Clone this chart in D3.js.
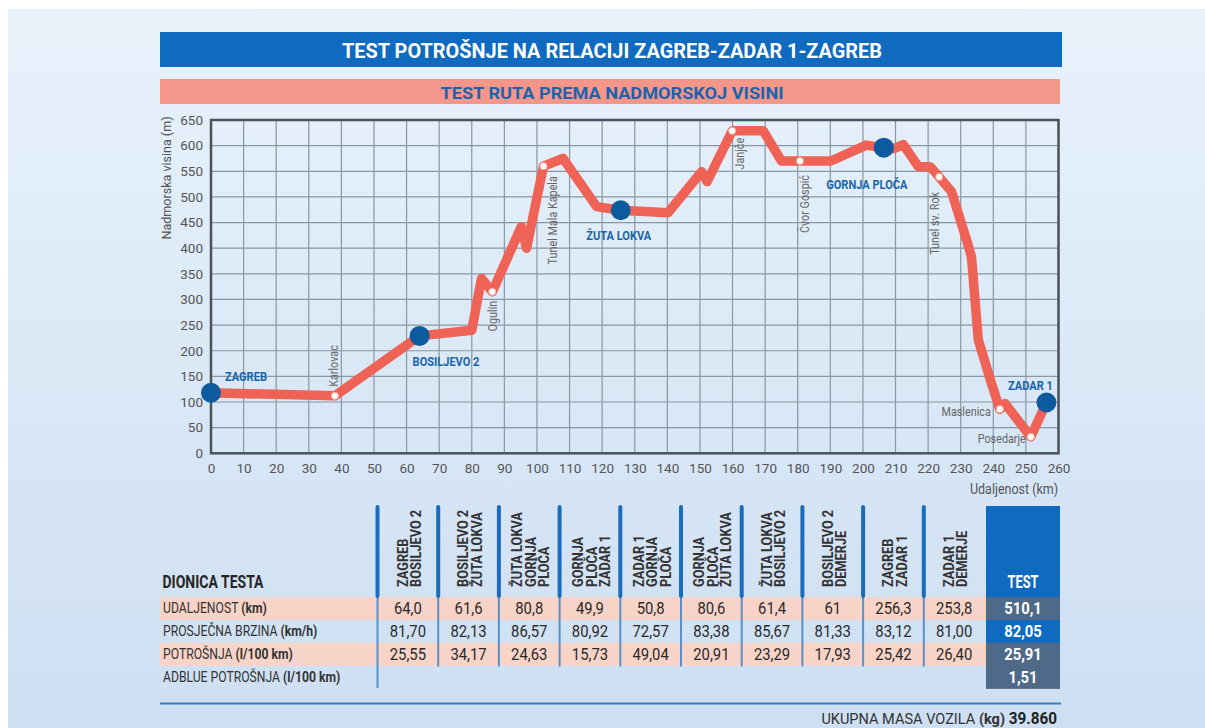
<!DOCTYPE html>
<html><head><meta charset="utf-8">
<script src="https://cdn.jsdelivr.net/npm/d3@7"></script>
<style>
html,body{margin:0;padding:0;background:#fff;}
svg{display:block;font-family:Roboto,"Noto Sans",sans-serif;}
</style></head><body>
<svg id="chart" width="1205" height="728"></svg>
<script>
// ---------------- DATA ----------------
const titleText = "TEST POTROŠNJE NA RELACIJI ZAGREB-ZADAR 1-ZAGREB";
const subtitleText = "TEST RUTA PREMA NADMORSKOJ VISINI";
const yAxisTitle = "Nadmorska visina (m)";
const xAxisTitle = "Udaljenost (km)";
const xTicks = [0,10,20,30,40,50,60,70,80,90,100,110,120,130,140,150,160,170,180,190,200,210,220,230,240,250,260];
const yTicks = [0,50,100,150,200,250,300,350,400,450,500,550,600,650];

// elevation profile (km, m)
const profileKm  = [0, 38, 64, 80, 83, 86.3, 95.2, 96.8, 102, 108, 118.3, 125.7, 140.2, 150.5, 152.2, 159.9, 169.4, 175, 180.7, 190.2, 201, 206.4, 209.5, 212.4, 217, 220.6, 223.4, 227.2, 231.8, 233.3, 235.4, 239.4, 242, 243.6, 251.5, 256.3];
const profileAlt = [118, 112, 229, 240, 341, 315, 442, 400, 560, 575, 481, 474, 469, 549, 530, 629, 629, 570, 570, 570, 601, 596, 594, 602, 559, 559, 539, 510, 416, 383, 221, 137, 86, 97, 32, 99];

// main stops (blue dots)
const stopNames = ["ZAGREB", "BOSILJEVO 2", "ŽUTA LOKVA", "GORNJA PLOČA", "ZADAR 1"];
const stopKm    = [0, 64, 125.7, 206.4, 256.3];
const stopAlt   = [118, 229, 474, 596, 99];

// waypoints (white dots)
const placeNames = ["Karlovac", "Ogulin", "Tunel Mala Kapela", "Janjče", "Čvor Gospić", "Tunel sv. Rok", "Maslenica", "Posedarje"];
const placeKm    = [38, 86.3, 102, 159.9, 180.7, 223.4, 242, 251.5];
const placeAlt   = [112, 315, 560, 629, 570, 539, 86, 32];

// table
const tableTitle = "DIONICA TESTA";
const sectionLabels = [
  ["ZAGREB", "BOSILJEVO 2"],
  ["BOSILJEVO 2", "ŽUTA LOKVA"],
  ["ŽUTA LOKVA", "GORNJA", "PLOČA"],
  ["GORNJA", "PLOČA", "ZADAR 1"],
  ["ZADAR 1", "GORNJA", "PLOČA"],
  ["GORNJA", "PLOČA", "ŽUTA LOKVA"],
  ["ŽUTA LOKVA", "BOSILJEVO 2"],
  ["BOSILJEVO 2", "DEMERJE"],
  ["ZAGREB", "ZADAR 1"],
  ["ZADAR 1", "DEMERJE"]
];
const rowLabels = [["UDALJENOST ", "(km)"], ["PROSJEČNA BRZINA ", "(km/h)"], ["POTROŠNJA ", "(l/100 km)"], ["ADBLUE POTROŠNJA ", "(l/100 km)"]];
const distanceVals    = ["64,0", "61,6", "80,8", "49,9", "50,8", "80,6", "61,4", "61", "256,3", "253,8"];
const speedVals       = ["81,70", "82,13", "86,57", "80,92", "72,57", "83,38", "85,67", "81,33", "83,12", "81,00"];
const consumptionVals = ["25,55", "34,17", "24,63", "15,73", "49,04", "20,91", "23,29", "17,93", "25,42", "26,40"];
const testHeader = "TEST";
const testVals = ["510,1", "82,05", "25,91", "1,51"];
const massLabel = ["UKUPNA MASA VOZILA ", "(kg)"];
const massValue = "39.860";

// ---------------- LAYOUT / STYLE ----------------
const C = {
  blue: "#0e6bbf", darkBlue: "#0d5a9e", salmon: "#f4968a", lightSalmon: "#f8d3c7",
  line: "#ef6356", text: "#333", gray: "#555", slate: "#4e6a88", sep: "#1b6cbd", sepThin: "#5a90c8"
};
const stopLabelPos = [[14,-12,"start"],[-7,30,"start"],[-2,30,"middle"],[-17,41,"middle"],[-16,-13,"middle"]];
const placeLabelPos = [
  {dx:-1, dy:-9, anchor:"start", rot:true},
  {dx:0, dy:9, anchor:"end", rot:true},
  {dx:9, dy:10, anchor:"end", rot:true},
  {dx:8, dy:7, anchor:"end", rot:true},
  {dx:5, dy:14, anchor:"end", rot:true},
  {dx:-4, dy:15, anchor:"end", rot:true},
  {dx:-9, dy:3, anchor:"end", rot:false},
  {dx:-5, dy:2, anchor:"end", rot:false}
];

const svg = d3.select("#chart");
const defs = svg.append("defs");
const grad = defs.append("linearGradient").attr("id","bg").attr("x1",0).attr("y1",0).attr("x2",0).attr("y2",1);
grad.append("stop").attr("offset","0%").attr("stop-color","#e8f2fb");
grad.append("stop").attr("offset","100%").attr("stop-color","#cddff2");
svg.append("rect").attr("x",8).attr("y",9).attr("width",1197).attr("height",719).attr("fill","url(#bg)");

function txt(parent, x, y, s, o) {
  let tr = `translate(${x},${y})`;
  if (o.rot) tr += ` rotate(${o.rot})`;
  if (o.sx) tr += ` scale(${o.sx},1)`;
  const t = parent.append("text").attr("transform", tr)
    .attr("font-size", o.size).attr("font-weight", o.weight || 400)
    .attr("fill", o.fill).attr("text-anchor", o.anchor || "start");
  if (o.dy) t.attr("dy", o.dy);
  if (o.len) t.attr("textLength", o.len).attr("lengthAdjust", "spacingAndGlyphs");
  if (Array.isArray(s)) {
    t.append("tspan").text(s[0]);
    t.append("tspan").attr("font-weight", 700).text(s[1]);
  } else t.text(s);
  return t;
}

// ---------------- HEADER BARS ----------------
svg.append("rect").attr("x",160).attr("y",32).attr("width",902).attr("height",35).attr("fill",C.blue);
txt(svg, 612, 57.5, titleText, {size:20, weight:700, fill:"#fff", anchor:"middle", len:540});
svg.append("rect").attr("x",160).attr("y",79).attr("width",900).attr("height",25).attr("fill",C.salmon);
txt(svg, 612, 98.5, subtitleText, {size:17, weight:700, fill:"#1b63ad", anchor:"middle", len:343});

// ---------------- CHART ----------------
const x = d3.scaleLinear().domain([0,260]).range([211,1058.5]);
const y = d3.scaleLinear().domain([0,650]).range([453.3,120]);

const grid = svg.append("g");
grid.selectAll("line.v").data(xTicks).join("line")
  .attr("x1", d=>x(d)).attr("x2", d=>x(d)).attr("y1", y(650)).attr("y2", y(0))
  .attr("stroke","#8996a3").attr("stroke-width",1.2);
grid.selectAll("line.h").data(yTicks).join("line")
  .attr("x1", x(0)).attr("x2", x(260)).attr("y1", d=>y(d)).attr("y2", d=>y(d))
  .attr("stroke","#8996a3").attr("stroke-width",1.2);
svg.append("rect").attr("x",x(0)).attr("y",y(650)).attr("width",x(260)-x(0)).attr("height",y(0)-y(650))
  .attr("fill","none").attr("stroke","#4d5258").attr("stroke-width",2.5);

const ax = svg.append("g").attr("transform",`translate(0,${y(0)})`)
  .call(d3.axisBottom(x).tickValues(xTicks).tickSize(0).tickPadding(10).tickFormat(d3.format("d")));
const ay = svg.append("g").attr("transform",`translate(${x(0)},0)`)
  .call(d3.axisLeft(y).tickValues(yTicks).tickSize(0).tickPadding(8).tickFormat(d3.format("d")));
[ax, ay].forEach(a => {
  a.select(".domain").remove();
  a.selectAll("text").attr("font-size",13.5).attr("fill",C.gray).attr("font-family","Roboto, sans-serif");
});
txt(svg, 166, 178, yAxisTitle, {size:13.5, fill:C.gray, anchor:"middle", rot:-90, dy:"0.35em", len:123});
txt(svg, 1058, 494, xAxisTitle, {size:14, fill:C.gray, anchor:"end", len:88});

// profile line
const pts = profileKm.map((k,i)=>[k, profileAlt[i]]);
svg.append("path").datum(pts)
  .attr("d", d3.line().x(d=>x(d[0])).y(d=>y(d[1])))
  .attr("fill","none").attr("stroke",C.line).attr("stroke-width",9.5)
  .attr("stroke-linejoin","round").attr("stroke-linecap","round");

// waypoints
const places = placeNames.map((n,i)=>({n, k:placeKm[i], a:placeAlt[i], p:placeLabelPos[i]}));
svg.selectAll("circle.place").data(places).join("circle")
  .attr("cx", d=>x(d.k)).attr("cy", d=>y(d.a)).attr("r",3.6)
  .attr("fill","#fff").attr("stroke","#f5a39a").attr("stroke-width",1);
places.forEach(d => {
  txt(svg, x(d.k)+d.p.dx, y(d.a)+d.p.dy, d.n,
    {size:12, fill:"#666", anchor:d.p.anchor, rot: d.p.rot ? -90 : 0, dy:"0.35em", sx:0.9});
});

// main stops
const stops = stopNames.map((n,i)=>({n, k:stopKm[i], a:stopAlt[i], p:stopLabelPos[i]}));
svg.selectAll("circle.stop").data(stops).join("circle")
  .attr("cx", d=>x(d.k)).attr("cy", d=>y(d.a)).attr("r",10).attr("fill",C.darkBlue);
stops.forEach(d => {
  txt(svg, x(d.k)+d.p[0], y(d.a)+d.p[1], d.n, {size:13, weight:700, fill:"#1765aa", anchor:d.p[2], sx:0.85});
});

// ---------------- TABLE ----------------
const col = d3.scaleBand().domain(d3.range(sectionLabels.length)).range([377.5, 984.5]);
const row = d3.scaleBand().domain(d3.range(rowLabels.length)).range([597, 688.6]);
const tbl = svg.append("g");

// salmon rows
[0,2].forEach(r => {
  tbl.append("rect").attr("x",160).attr("y",row(r)).attr("width",986-160).attr("height",row.bandwidth()).attr("fill",C.lightSalmon);
});

// separators
sectionLabels.forEach((s,i) => {
  const sx = col(i);
  tbl.append("line").attr("x1",sx).attr("x2",sx).attr("y1",597).attr("y2", i===0 ? 688 : 666.5)
    .attr("stroke",C.sepThin).attr("stroke-width",2);
  tbl.append("line").attr("x1",sx).attr("x2",sx).attr("y1",507).attr("y2",596)
    .attr("stroke",C.sep).attr("stroke-width",4).attr("stroke-linecap","round");
});

// headers
sectionLabels.forEach((lines,i) => {
  const cx = col(i) + col.bandwidth()/2 + 1.5;
  lines.forEach((l,j) => {
    txt(tbl, cx + (j-(lines.length-1)/2)*13.5, 587, l,
      {size:14.5, weight:700, fill:C.text, anchor:"start", rot:-90, dy:"0.35em", sx:0.88});
  });
});
txt(tbl, 162.5, 588, tableTitle, {size:18, weight:700, fill:"#262626", len:101});

// row labels
rowLabels.forEach((rl,r) => {
  txt(tbl, 163, row(r)+row.bandwidth()/2+5, rl, {size:14.5, fill:C.text, sx:0.84});
});

// values
[distanceVals, speedVals, consumptionVals].forEach((vals,r) => {
  vals.forEach((v,i) => {
    txt(tbl, col(i)+col.bandwidth()/2, row(r)+row.bandwidth()/2+5.8, v, {size:16.5, fill:"#2a2a2a", anchor:"middle", sx:0.9});
  });
});

// TEST column
tbl.append("rect").attr("x",986).attr("y",506).attr("width",74).attr("height",91).attr("fill",C.blue);
txt(tbl, 1023, 588, testHeader, {size:18, weight:700, fill:"#fff", anchor:"middle", len:31});
const testFills = [C.slate, C.blue, C.slate, C.slate];
testVals.forEach((v,r) => {
  tbl.append("rect").attr("x",986).attr("y",row(r)).attr("width",74).attr("height",row.bandwidth()+0.3).attr("fill",testFills[r]);
  txt(tbl, 1023, row(r)+row.bandwidth()/2+5.8, v, {size:16.5, weight:700, fill:"#fff", anchor:"middle", sx:0.9});
});

// bottom rule + mass
svg.append("line").attr("x1",160).attr("x2",1061).attr("y1",703.5).attr("y2",703.5).attr("stroke","#2f7fc8").attr("stroke-width",2);
txt(svg, 1057, 723.5, massValue, {size:17, weight:700, fill:"#222", anchor:"end", sx:0.9});
txt(svg, 1005, 723.5, massLabel, {size:15, fill:C.text, anchor:"end", sx:0.97});
</script>
</body></html>
